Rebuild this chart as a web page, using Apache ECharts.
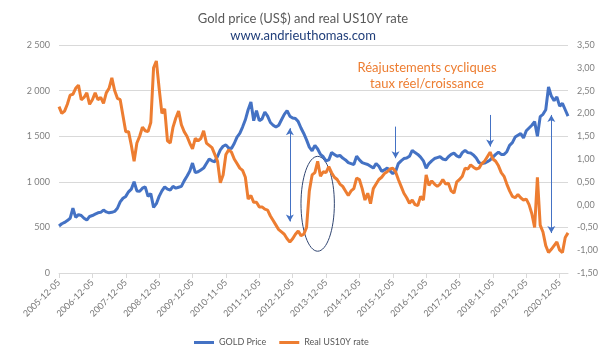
<!DOCTYPE html>
<html><head><meta charset="utf-8">
<script src="https://cdn.jsdelivr.net/npm/echarts@6/dist/echarts.min.js"></script>
<style>html,body{margin:0;padding:0;background:#fff}#c{width:606px;height:356px}</style>
</head><body><div id="c"></div>
<script>
// x-axis tick labels (one every 12 months)
const tickLabels = ['2005-12-05','2006-12-05','2007-12-05','2008-12-05','2009-12-05','2010-11-05','2011-12-05','2012-12-05','2013-12-05','2014-12-05','2015-12-05','2016-12-05','2017-12-05','2018-11-05','2019-12-05','2020-12-05'];

// Gold price (US$), monthly from 2005-12 to 2021-03
const goldPrice = [
515,540,555,575,600,710,610,640,630,600,580,620,
630,645,660,665,690,670,660,665,675,710,780,820,
840,890,920,1000,900,895,930,945,840,870,720,760,
840,900,945,920,910,950,930,940,950,1010,1060,1115,
1205,1100,1110,1130,1150,1200,1250,1230,1220,1280,1350,1390,
1405,1370,1365,1420,1490,1530,1600,1680,1790,1875,1670,1780,
1670,1690,1765,1720,1650,1620,1600,1620,1680,1740,1780,1720,
1700,1695,1660,1590,1530,1460,1380,1340,1400,1360,1300,1275,
1230,1240,1320,1300,1280,1290,1260,1240,1210,1200,1190,1280,
1240,1210,1200,1190,1170,1150,1200,1170,1115,1130,1150,1120,
1090,1110,1200,1230,1255,1260,1280,1345,1320,1300,1270,1230,
1150,1200,1230,1255,1265,1275,1250,1240,1275,1300,1315,1285,
1270,1320,1345,1320,1315,1295,1260,1210,1200,1205,1220,1240,
1270,1300,1325,1300,1300,1330,1400,1430,1490,1510,1530,1480,
1560,1590,1620,1660,1500,1715,1740,1790,2040,1940,1890,1930,
1830,1860,1790,1720];

// Real US 10Y rate (%), same months
const realRate = [
2.15,2.00,2.05,2.20,2.40,2.42,2.55,2.62,2.30,2.35,2.45,2.20,
2.30,2.45,2.30,2.35,2.22,2.45,2.55,2.78,2.50,2.33,2.30,1.95,
1.60,1.60,1.30,0.95,1.35,1.50,1.70,1.62,1.60,1.80,3.00,3.15,
2.55,2.00,2.10,1.40,1.35,1.70,1.90,2.05,1.75,1.60,1.50,1.35,
1.22,1.45,1.40,1.45,1.62,1.35,1.30,1.25,1.10,0.95,0.48,0.65,
1.10,1.20,1.15,1.00,0.90,0.80,0.75,0.60,0.12,0.20,0.05,0.05,
-0.05,-0.05,-0.10,-0.12,-0.25,-0.35,-0.45,-0.55,-0.60,-0.65,-0.75,-0.82,
-0.75,-0.65,-0.58,-0.68,-0.65,-0.50,0.30,0.65,0.70,0.95,0.62,0.72,
0.70,0.83,0.70,0.60,0.55,0.45,0.40,0.30,0.20,0.30,0.35,0.58,
0.55,0.35,0.10,0.25,0.02,0.35,0.45,0.55,0.60,0.68,0.72,0.78,
0.80,0.72,0.55,0.40,0.25,0.15,0.03,0.10,0.00,-0.02,0.18,0.10,
0.65,0.42,0.52,0.45,0.40,0.45,0.55,0.45,0.47,0.30,0.25,0.50,
0.55,0.62,0.80,0.78,0.87,0.82,0.78,0.80,0.90,0.95,1.05,1.15,
1.00,0.95,0.85,0.70,0.62,0.45,0.30,0.18,0.15,0.22,0.15,0.10,
0.12,0.00,-0.20,-0.50,0.60,-0.45,-0.60,-0.90,-1.05,-0.98,-0.90,-0.82,
-1.00,-1.05,-0.72,-0.62];

// monthly category names
const categories = [];
for (let i = 0; i < goldPrice.length; i++) {
  const y = 2005 + Math.floor((11 + i) / 12);
  const mo = ((11 + i) % 12) + 1;
  categories.push(y + '-' + String(mo).padStart(2, '0') + '-05');
}

// annotation arrows in data units (category index, gold price)
const arrows = [
  {idx: 83, from: 1588, to: 565, both: true},
  {idx: 121, from: 1605, to: 1259, both: false},
  {idx: 155, from: 1733, to: 1386, both: false},
  {idx: 177, from: 1733, to: 438, both: true}
];
const ellipseAnn = {idx: 92.7, val: 759, rIdx: 6.4, rVal: 520};

const FONT = 'Lato, "Open Sans", sans-serif';
const every12 = (i) => i % 12 === 0;

const chart = echarts.init(document.getElementById('c'));
const option = {
  animation: false,
  textStyle: {fontFamily: FONT},
  title: {
    text: 'Gold price (US$) and real US10Y rate',
    subtext: 'www.andrieuthomas.com',
    left: 'center', top: 7, itemGap: 4,
    textStyle: {fontFamily: FONT, fontSize: 13, fontWeight: 'normal', color: '#595959'},
    subtextStyle: {fontFamily: FONT, fontSize: 13, color: '#203e7a'}
  },
  grid: {left: 59, right: 38, top: 45, bottom: 83, containLabel: false},
  legend: {
    left: 189, top: 333, icon: 'rect', itemWidth: 20, itemHeight: 3, itemGap: 13,
    textStyle: {fontFamily: FONT, fontSize: 9, color: '#595959'},
    data: ['GOLD Price', 'Real US10Y rate']
  },
  xAxis: {
    type: 'category', data: categories, boundaryGap: false,
    axisLine: {lineStyle: {color: '#d9d9d9'}},
    axisTick: {show: true, interval: every12, length: 5, lineStyle: {color: '#d9d9d9'}},
    axisLabel: {interval: every12, rotate: 45, fontSize: 9, color: '#767676', margin: 8,
      formatter: (v, i) => tickLabels[i / 12] || ''},
    splitLine: {show: false}
  },
  yAxis: [
    {type: 'value', min: 0, max: 2500, interval: 500, position: 'left',
      axisLine: {show: false}, axisTick: {show: false},
      splitLine: {lineStyle: {color: '#d9d9d9'}},
      axisLabel: {fontSize: 9, color: '#7f7f7f', margin: 9,
        formatter: v => String(v).replace(/\B(?=(\d{3})+(?!\d))/g, ' ')}},
    {type: 'value', min: -1.5, max: 3.5, interval: 0.5, position: 'right',
      axisLine: {show: false}, axisTick: {show: false}, splitLine: {show: false},
      axisLabel: {fontSize: 9, color: '#7f7f7f', margin: 9,
        formatter: v => v.toFixed(2).replace('.', ',')}}
  ],
  series: [
    {name: 'GOLD Price', type: 'line', yAxisIndex: 0, data: goldPrice,
      showSymbol: false, symbol: 'none', color: '#4472C4',
      lineStyle: {width: 3, color: '#4472C4'},
      markLine: {
        silent: true, symbolSize: [6, 7],
        lineStyle: {color: '#4472C4', width: 1, type: 'solid'},
        label: {show: false},
        data: arrows.map(a => [
          {coord: [a.idx, a.from], symbol: a.both ? 'arrow' : 'none'},
          {coord: [a.idx, a.to], symbol: 'arrow'}
        ])
      }},
    {name: 'Real US10Y rate', type: 'line', yAxisIndex: 1, data: realRate,
      showSymbol: false, symbol: 'none', color: '#ED7D31',
      lineStyle: {width: 3, color: '#ED7D31'}}
  ]
};
chart.setOption(option);

const c0 = chart.convertToPixel({gridIndex: 0}, [ellipseAnn.idx, ellipseAnn.val]);
const c1 = chart.convertToPixel({gridIndex: 0}, [ellipseAnn.idx + ellipseAnn.rIdx, ellipseAnn.val + ellipseAnn.rVal]);
chart.setOption({
  graphic: [
    {type: 'ellipse', silent: true,
      shape: {cx: c0[0], cy: c0[1], rx: Math.abs(c1[0] - c0[0]), ry: Math.abs(c0[1] - c1[1])},
      style: {fill: 'none', stroke: '#2f4470', lineWidth: 1}},
    {type: 'text', silent: true, x: 427, y: 60,
      style: {text: 'Réajustements cycliques\ntaux réel/croissance', textAlign: 'center',
        fill: '#ED7D31', font: '13px ' + FONT, lineHeight: 16}}
  ]
});
</script></body></html>
